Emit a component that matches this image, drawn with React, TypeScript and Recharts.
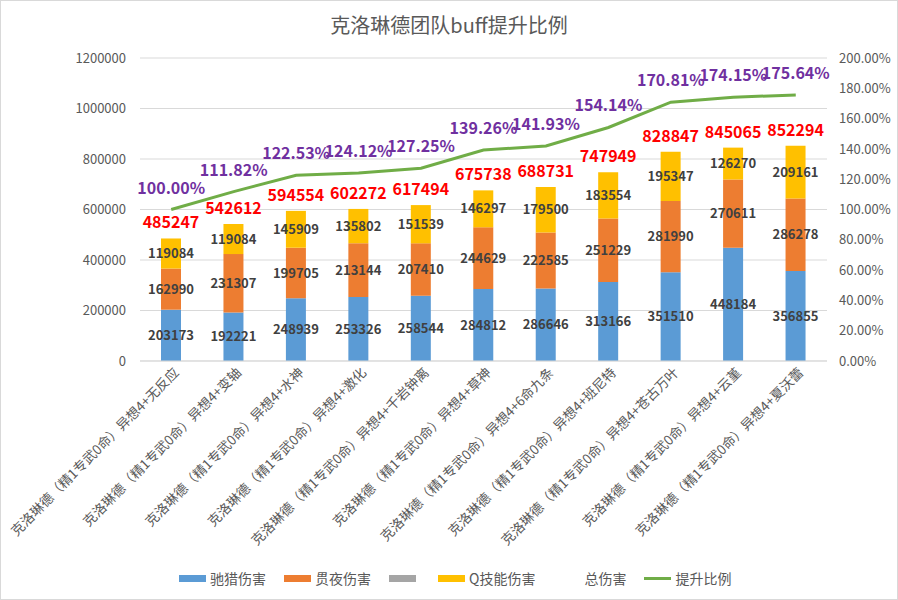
import { ComposedChart, Bar, Line, XAxis, YAxis, CartesianGrid, LabelList, Legend } from 'recharts'

const categories = [
  '克洛琳德（精1专武0命）异想4+无反应',
  '克洛琳德（精1专武0命）异想4+变轴',
  '克洛琳德（精1专武0命）异想4+水神',
  '克洛琳德（精1专武0命）异想4+激化',
  '克洛琳德（精1专武0命）异想4+千岩钟离',
  '克洛琳德（精1专武0命）异想4+草神',
  '克洛琳德（精1专武0命）异想4+6命九条',
  '克洛琳德（精1专武0命）异想4+班尼特',
  '克洛琳德（精1专武0命）异想4+苍古万叶',
  '克洛琳德（精1专武0命）异想4+云堇',
  '克洛琳德（精1专武0命）异想4+夏沃蕾',
]
const chieDamage = [203173, 192221, 248939, 253326, 258544, 284812, 286646, 313166, 351510, 448184, 356855]
const guanyeDamage = [162990, 231307, 199705, 213144, 207410, 244629, 222585, 251229, 281990, 270611, 286278]
const qDamage = [119084, 119084, 145909, 135802, 151539, 146297, 179500, 183554, 195347, 126270, 209161]
const totalDamage = [485247, 542612, 594554, 602272, 617494, 675738, 688731, 747949, 828847, 845065, 852294]
const boostPct = [100.0, 111.82, 122.53, 124.12, 127.25, 139.26, 141.93, 154.14, 170.81, 174.15, 175.64]

const leftTicks = [0, 200000, 400000, 600000, 800000, 1000000, 1200000]
const rightTicks = [0, 0.2, 0.4, 0.6, 0.8, 1.0, 1.2, 1.4, 1.6, 1.8, 2.0]

const legendItems = [
  { label: '驰猎伤害', color: '#5B9BD5', kind: 'box' },
  { label: '贯夜伤害', color: '#ED7D31', kind: 'box' },
  { label: '', color: '#A5A5A5', kind: 'box' },
  { label: 'Q技能伤害', color: '#FFC000', kind: 'box' },
  { label: '总伤害', color: 'transparent', kind: 'box' },
  { label: '提升比例', color: '#70AD47', kind: 'line' },
]

const data = categories.map((name, i) => ({
  name,
  chie: chieDamage[i],
  guanye: guanyeDamage[i],
  q: qDamage[i],
  total: totalDamage[i],
  pct: boostPct[i] / 100,
}))

const FONT = "'Noto Sans CJK SC', 'Noto Sans', sans-serif"
const AXIS_COLOR = '#595959'

function CategoryTick({ x, y, payload }: any) {
  return (
    <text
      x={0}
      y={0}
      transform={`translate(${x + 6},${y + 2}) rotate(-45)`}
      textAnchor="end"
      dominantBaseline="middle"
      fontSize={13.4}
      fill={AXIS_COLOR}
      fontFamily={FONT}
    >
      {payload.value}
    </text>
  )
}

function ChartLegend() {
  return (
    <div style={{ display: 'flex', alignItems: 'center', paddingLeft: 178, fontSize: 14, color: AXIS_COLOR, fontFamily: FONT }}>
      {legendItems.map((it, i) => (
        <div key={i} style={{ display: 'flex', alignItems: 'center', marginRight: 18 }}>
          <span style={{ display: 'inline-block', width: 27, height: it.kind === 'line' ? 3 : 7, background: it.color, marginRight: 4 }} />
          <span>{it.label}</span>
        </div>
      ))}
    </div>
  )
}

const pctFmt = (v: number) => `${(v * 100).toFixed(2)}%`

export default function App() {
  return (
    <div style={{ position: 'absolute', left: 0, top: 0, width: 898, height: 600, background: '#fff', fontFamily: FONT, boxSizing: 'border-box', border: '1px solid #d9d9d9' }}>
      <div style={{ position: 'absolute', top: 9, width: '100%', textAlign: 'center', fontSize: 20, color: AXIS_COLOR }}>
        克洛琳德团队buff提升比例
      </div>
      <ComposedChart width={896} height={598} data={data} margin={{ top: 57, right: 0, bottom: 0, left: 0 }}>
        <CartesianGrid yAxisId="left" vertical={false} stroke="#d9d9d9" />
        <XAxis dataKey="name" interval={0} height={218} tickLine={false} axisLine={{ stroke: '#d9d9d9' }} tick={<CategoryTick />} />
        <YAxis yAxisId="left" width={139} domain={[0, 1200000]} ticks={leftTicks} axisLine={false} tickLine={false} tickMargin={8}
          tick={{ fontSize: 13, fill: AXIS_COLOR }} />
        <YAxis yAxisId="right" orientation="right" width={70} domain={[0, 2]} ticks={rightTicks} axisLine={false} tickLine={false} tickMargin={6}
          tickFormatter={pctFmt} tick={{ fontSize: 13, fill: AXIS_COLOR, textAnchor: 'start' }} />
        <Legend verticalAlign="bottom" wrapperStyle={{ top: 567, left: 0, width: 898 }} content={<ChartLegend />} />
        <Bar yAxisId="left" dataKey="chie" stackId="a" fill="#5B9BD5" barSize={20} isAnimationActive={false}>
          <LabelList dataKey="chie" position="center" fill="#404040" fontSize={13} fontWeight="bold" />
        </Bar>
        <Bar yAxisId="left" dataKey="guanye" stackId="a" fill="#ED7D31" barSize={20} isAnimationActive={false}>
          <LabelList dataKey="guanye" position="center" fill="#404040" fontSize={13} fontWeight="bold" />
        </Bar>
        <Bar yAxisId="left" dataKey="q" stackId="a" fill="#FFC000" barSize={20} isAnimationActive={false}>
          <LabelList dataKey="q" position="center" fill="#404040" fontSize={13} fontWeight="bold" />
          <LabelList dataKey="total" position="top" offset={10} fill="#FF0000" fontSize={16} fontWeight="bold" />
        </Bar>
        <Line yAxisId="right" dataKey="pct" stroke="#70AD47" strokeWidth={3} dot={false} isAnimationActive={false}>
          <LabelList dataKey="pct" position="top" offset={16} formatter={pctFmt} fill="#7030A0" fontSize={16} fontWeight="bold" />
        </Line>
      </ComposedChart>
    </div>
  )
}
